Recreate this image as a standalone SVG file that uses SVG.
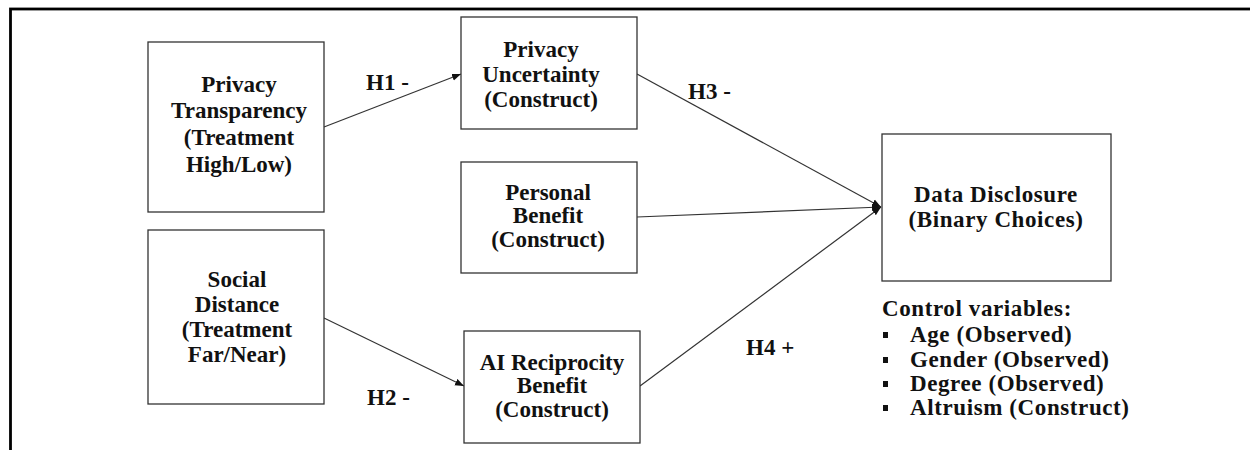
<svg xmlns="http://www.w3.org/2000/svg" width="1250" height="450" viewBox="0 0 1250 450">
<style>
.box{fill:#fff;stroke:#333;stroke-width:1.3}
.t{font-family:"Liberation Serif","Times New Roman",serif;font-weight:bold;font-size:23px;fill:#111;text-anchor:middle}
.l{font-family:"Liberation Serif","Times New Roman",serif;font-weight:bold;font-size:23px;fill:#111}
.w{letter-spacing:0.6px}
.c{stroke:#333;stroke-width:1.2;fill:none}
</style>
<defs>
<marker id="ah" markerUnits="userSpaceOnUse" markerWidth="10" markerHeight="8" refX="9" refY="4" orient="auto">
<path d="M0,0.5 L9,4 L0,7.5 Z" fill="#111"/>
</marker>
</defs>
<rect x="0" y="0" width="1250" height="450" fill="#fff"/>
<rect x="10.5" y="9" width="1260" height="460" fill="none" stroke="#000" stroke-width="2.8"/>
<g id="connectors">
<line class="c" x1="324" y1="127" x2="461" y2="74" marker-end="url(#ah)"/>
<line class="c" x1="324" y1="318" x2="464" y2="386" marker-end="url(#ah)"/>
<line class="c" x1="637" y1="74" x2="881" y2="207" marker-end="url(#ah)"/>
<line class="c" x1="637" y1="217" x2="881" y2="207" marker-end="url(#ah)"/>
<line class="c" x1="640" y1="386" x2="881" y2="207" marker-end="url(#ah)"/>
<text class="l" x="366" y="90">H1 -</text>
<text class="l" x="367" y="405">H2 -</text>
<text class="l" x="688" y="99">H3 -</text>
<text class="l" x="746" y="355">H4 +</text>
</g>
<g id="privacy-transparency">
<rect class="box" x="148" y="42" width="176" height="170"/>
<text class="t" x="239" y="92">Privacy</text>
<text class="t" x="239" y="118">Transparency</text>
<text class="t" x="239" y="145">(Treatment</text>
<text class="t" x="239" y="172">High/Low)</text>
</g>
<g id="social-distance">
<rect class="box" x="148" y="230" width="176" height="174"/>
<text class="t" x="237" y="287">Social</text>
<text class="t" x="237" y="312">Distance</text>
<text class="t" x="237" y="337">(Treatment</text>
<text class="t" x="237" y="362">Far/Near)</text>
</g>
<g id="privacy-uncertainty">
<rect class="box" x="461" y="17" width="176" height="112"/>
<text class="t" x="541" y="57">Privacy</text>
<text class="t" x="541" y="82">Uncertainty</text>
<text class="t" x="541" y="107">(Construct)</text>
</g>
<g id="personal-benefit">
<rect class="box" x="461" y="162" width="176" height="111"/>
<text class="t" x="548" y="200">Personal</text>
<text class="t" x="548" y="223">Benefit</text>
<text class="t" x="548" y="247">(Construct)</text>
</g>
<g id="ai-reciprocity-benefit">
<rect class="box" x="464" y="331" width="176" height="112"/>
<text class="t" x="552" y="370">AI Reciprocity</text>
<text class="t" x="552" y="393">Benefit</text>
<text class="t" x="552" y="417">(Construct)</text>
</g>
<g id="data-disclosure">
<rect class="box" x="882" y="134" width="229" height="147"/>
<text class="t w" x="996" y="202">Data Disclosure</text>
<text class="t w" x="996" y="227">(Binary Choices)</text>
</g>
<g id="control-variables">
<text class="l w" x="882" y="316">Control variables:</text>
<rect x="883" y="332" width="5" height="6" fill="#111"/>
<rect x="883" y="357" width="5" height="6" fill="#111"/>
<rect x="883" y="381" width="5" height="6" fill="#111"/>
<rect x="883" y="405" width="5" height="6" fill="#111"/>
<text class="l w" x="910" y="342">Age (Observed)</text>
<text class="l w" x="910" y="367">Gender (Observed)</text>
<text class="l w" x="910" y="391">Degree (Observed)</text>
<text class="l w" x="910" y="415">Altruism (Construct)</text>
</g>
</svg>
